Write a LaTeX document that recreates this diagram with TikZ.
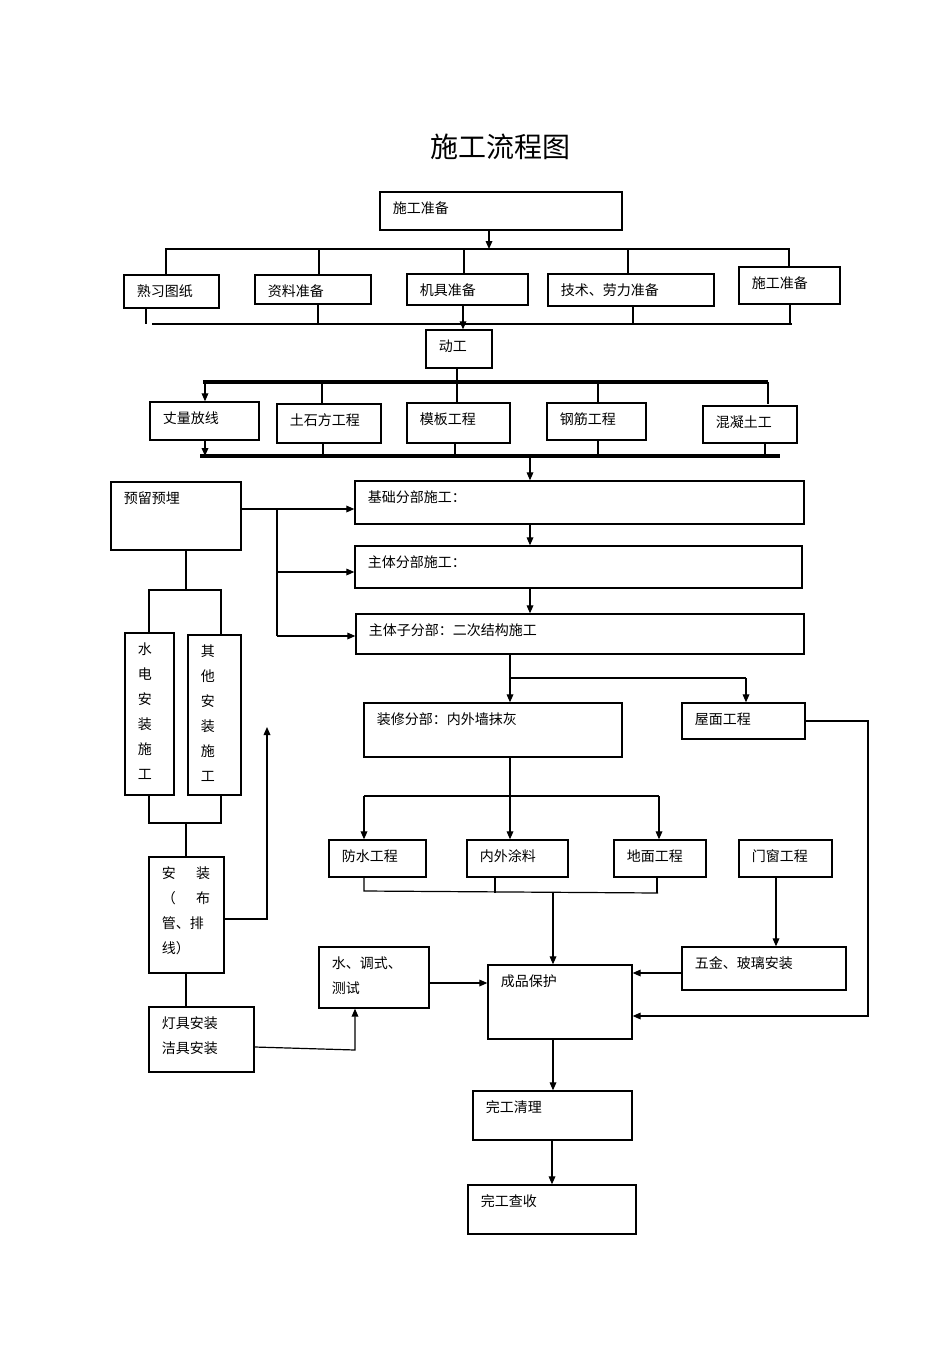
\documentclass[tikz,border=0pt]{standalone}
\usepackage{fontspec}
\setmainfont{Noto Sans CJK SC}
\usetikzlibrary{fit,arrows.meta}
\begin{document}
\begin{tikzpicture}[x=0.75pt,y=-0.75pt,
  box/.style={draw,line width=1pt,inner sep=0pt},
  lab/.style={anchor=north west,inner sep=0pt,xshift=10pt,yshift=-7.5pt,font=\fontsize{10.5}{18.75}\selectfont,align=left},
  ln/.style={line width=0.9pt},
  bus/.style={line width=2.4pt},
  ar/.style={ln,-{Triangle[length=6pt,width=5pt]}},
  every label/.style={lab}]
\useasboundingbox (0,0) rectangle (950,1345);
\newcommand\bx[6]{\node[box,fit={(#2,#3)(#4,#5)},label={north west:{#6}}] (#1) {};}
\node[font=\fontsize{21}{21}\selectfont] (title) at (500,147) {施工流程图};
\bx{prep}{380}{192}{622}{230}{施工准备}
\bx{a1}{124}{275}{219}{308}{熟习图纸}
\bx{a2}{255}{275}{371}{304}{资料准备}
\bx{a3}{407}{274}{528}{305}{机具准备}
\bx{a4}{548}{274}{714}{306}{技术、劳力准备}
\bx{a5}{739}{267}{840}{304}{施工准备}
\bx{dg}{426}{330}{492}{368}{动工}
\bx{b1}{150}{402}{259}{440}{丈量放线}
\bx{b2}{277}{404}{381}{443}{土石方工程}
\bx{b3}{407}{403}{510}{443}{模板工程}
\bx{b4}{547}{403}{646}{440}{钢筋工程}
\bx{b5}{703}{406}{797}{443}{混凝土工}
\bx{yl}{111}{482}{241}{550}{预留预埋}
\bx{jc}{355}{481}{804}{524}{基础分部施工：}
\bx{zt}{355}{546}{802}{588}{主体分部施工：}
\bx{zz}{356}{614}{804}{654}{主体子分部：二次结构施工}
\bx{zx}{364}{703}{622}{757}{装修分部：内外墙抹灰}
\bx{wm}{682}{703}{805}{739}{屋面工程}
\bx{fs}{329}{840}{426}{877}{防水工程}
\bx{tl}{467}{840}{568}{877}{内外涂料}
\bx{dm}{614}{840}{706}{877}{地面工程}
\bx{mc}{739}{840}{832}{877}{门窗工程}
\bx{wj}{682}{947}{846}{990}{五金、玻璃安装}
\bx{cp}{488}{965}{632}{1039}{成品保护}
\bx{ql}{473}{1091}{632}{1140}{完工清理}
\bx{cs}{468}{1185}{636}{1234}{完工查收}
\bx{sd}{125}{633}{174}{795}{水\\电\\安\\装\\施\\工}
\bx{qt}{188}{635}{241}{795}{其\\他\\安\\装\\施\\工}
\bx{az}{149}{857}{224}{973}{安\quad\ \ 装\\（\quad\ \ 布\\管、排\\线）}
\bx{dj}{149}{1007}{254}{1072}{灯具安装\\洁具安装}
\bx{ts}{319}{947}{429}{1008}{水、调式、\\测试}
% top distribution
\draw[ar] (prep.south -| 489,0) -- (489,249);
\draw[ln] (166,275) -- (166,249) -- (789,249) -- (789,267);
\foreach \x in {319,464,628} \draw[ln] (\x,249) -- (\x,274);
\draw[ln] (146,308) -- (146,324);
\draw[ln] (152,324) -- (792,324);
\foreach \x in {318,633,790} \draw[ln] (\x,305) -- (\x,324);
\draw[ar] (463,305) -- (dg.north -| 463,0);
\draw[ln] (dg.south -| 457,0) -- (457,382);
\draw[bus] (203,382) -- (768,382);
\draw[ar] (205,382) -- (b1.north -| 205,0);
\foreach \x in {322,457,598,768} \draw[ln] (\x,382) -- (\x,404);
\draw[bus] (200,456) -- (780,456);
\draw[ar] (205,440) -- (205,456);
\foreach \x in {323,455,765} \draw[bus,line width=1.8pt] (\x,443) -- (\x,456);
\draw[ln] (598,440) -- (598,456);
\draw[ar] (530,456) -- (jc.north -| 530,0);
% left feeder
\draw[ar] (yl.east |- 0,509) -- (jc.west |- 0,509);
\draw[ln] (277,509) -- (277,636);
\draw[ar] (277,572) -- (zt.west |- 0,572);
\draw[ar] (277,636) -- (zz.west |- 0,636);
\draw[ar] (jc.south -| 530,0) -- (zt.north -| 530,0);
\draw[ar] (zt.south -| 530,0) -- (zz.north -| 530,0);
\draw[ar] (zz.south -| 510,0) -- (zx.north -| 510,0);
\draw[ln] (510,678) -- (746,678);
\draw[ar] (746,678) -- (wm.north -| 746,0);
\draw[ar] (wm.east |- 0,721) -- (868,721) -- (868,1016) -- (cp.east |- 0,1016);
\draw[ar] (zx.south -| 510,0) -- (tl.north -| 510,0);
\draw[ln] (364,796) -- (659,796);
\draw[ar] (364,796) -- (fs.north -| 364,0);
\draw[ar] (659,796) -- (dm.north -| 659,0);
\draw[ln] (364,877) -- (364,891) -- (658,893);
\draw[bus,line width=1.8pt] (495,877) -- (495,893);
\draw[bus,line width=1.8pt] (657,877) -- (657,893);
\draw[ar] (553,893) -- (cp.north -| 553,0);
\draw[ar] (mc.south -| 776,0) -- (wj.north -| 776,0);
\draw[ar] (wj.west |- 0,973) -- (cp.east |- 0,973);
\draw[ar] (ts.east |- 0,983) -- (cp.west |- 0,983);
\draw[ar] (cp.south -| 553,0) -- (ql.north -| 553,0);
\draw[ar] (ql.south -| 552,0) -- (cs.north -| 552,0);
% left column
\draw[ln] (yl.south -| 186,0) -- (186,590);
\draw[bus,line width=1.8pt] (149,633) -- (149,590) -- (221,590) -- (221,635);
\draw[bus,line width=1.8pt] (149,795) -- (149,823) -- (221,823) -- (221,795);
\draw[ln] (186,823) -- (az.north -| 186,0);
\draw[ar] (az.east |- 0,919) -- (267,919) -- (267,727);
\draw[ln] (az.south -| 186,0) -- (dj.north -| 186,0);
\draw[ar] (dj.east |- 0,1047) -- (355,1050) -- (ts.south -| 355,0);
\end{tikzpicture}
\end{document}
